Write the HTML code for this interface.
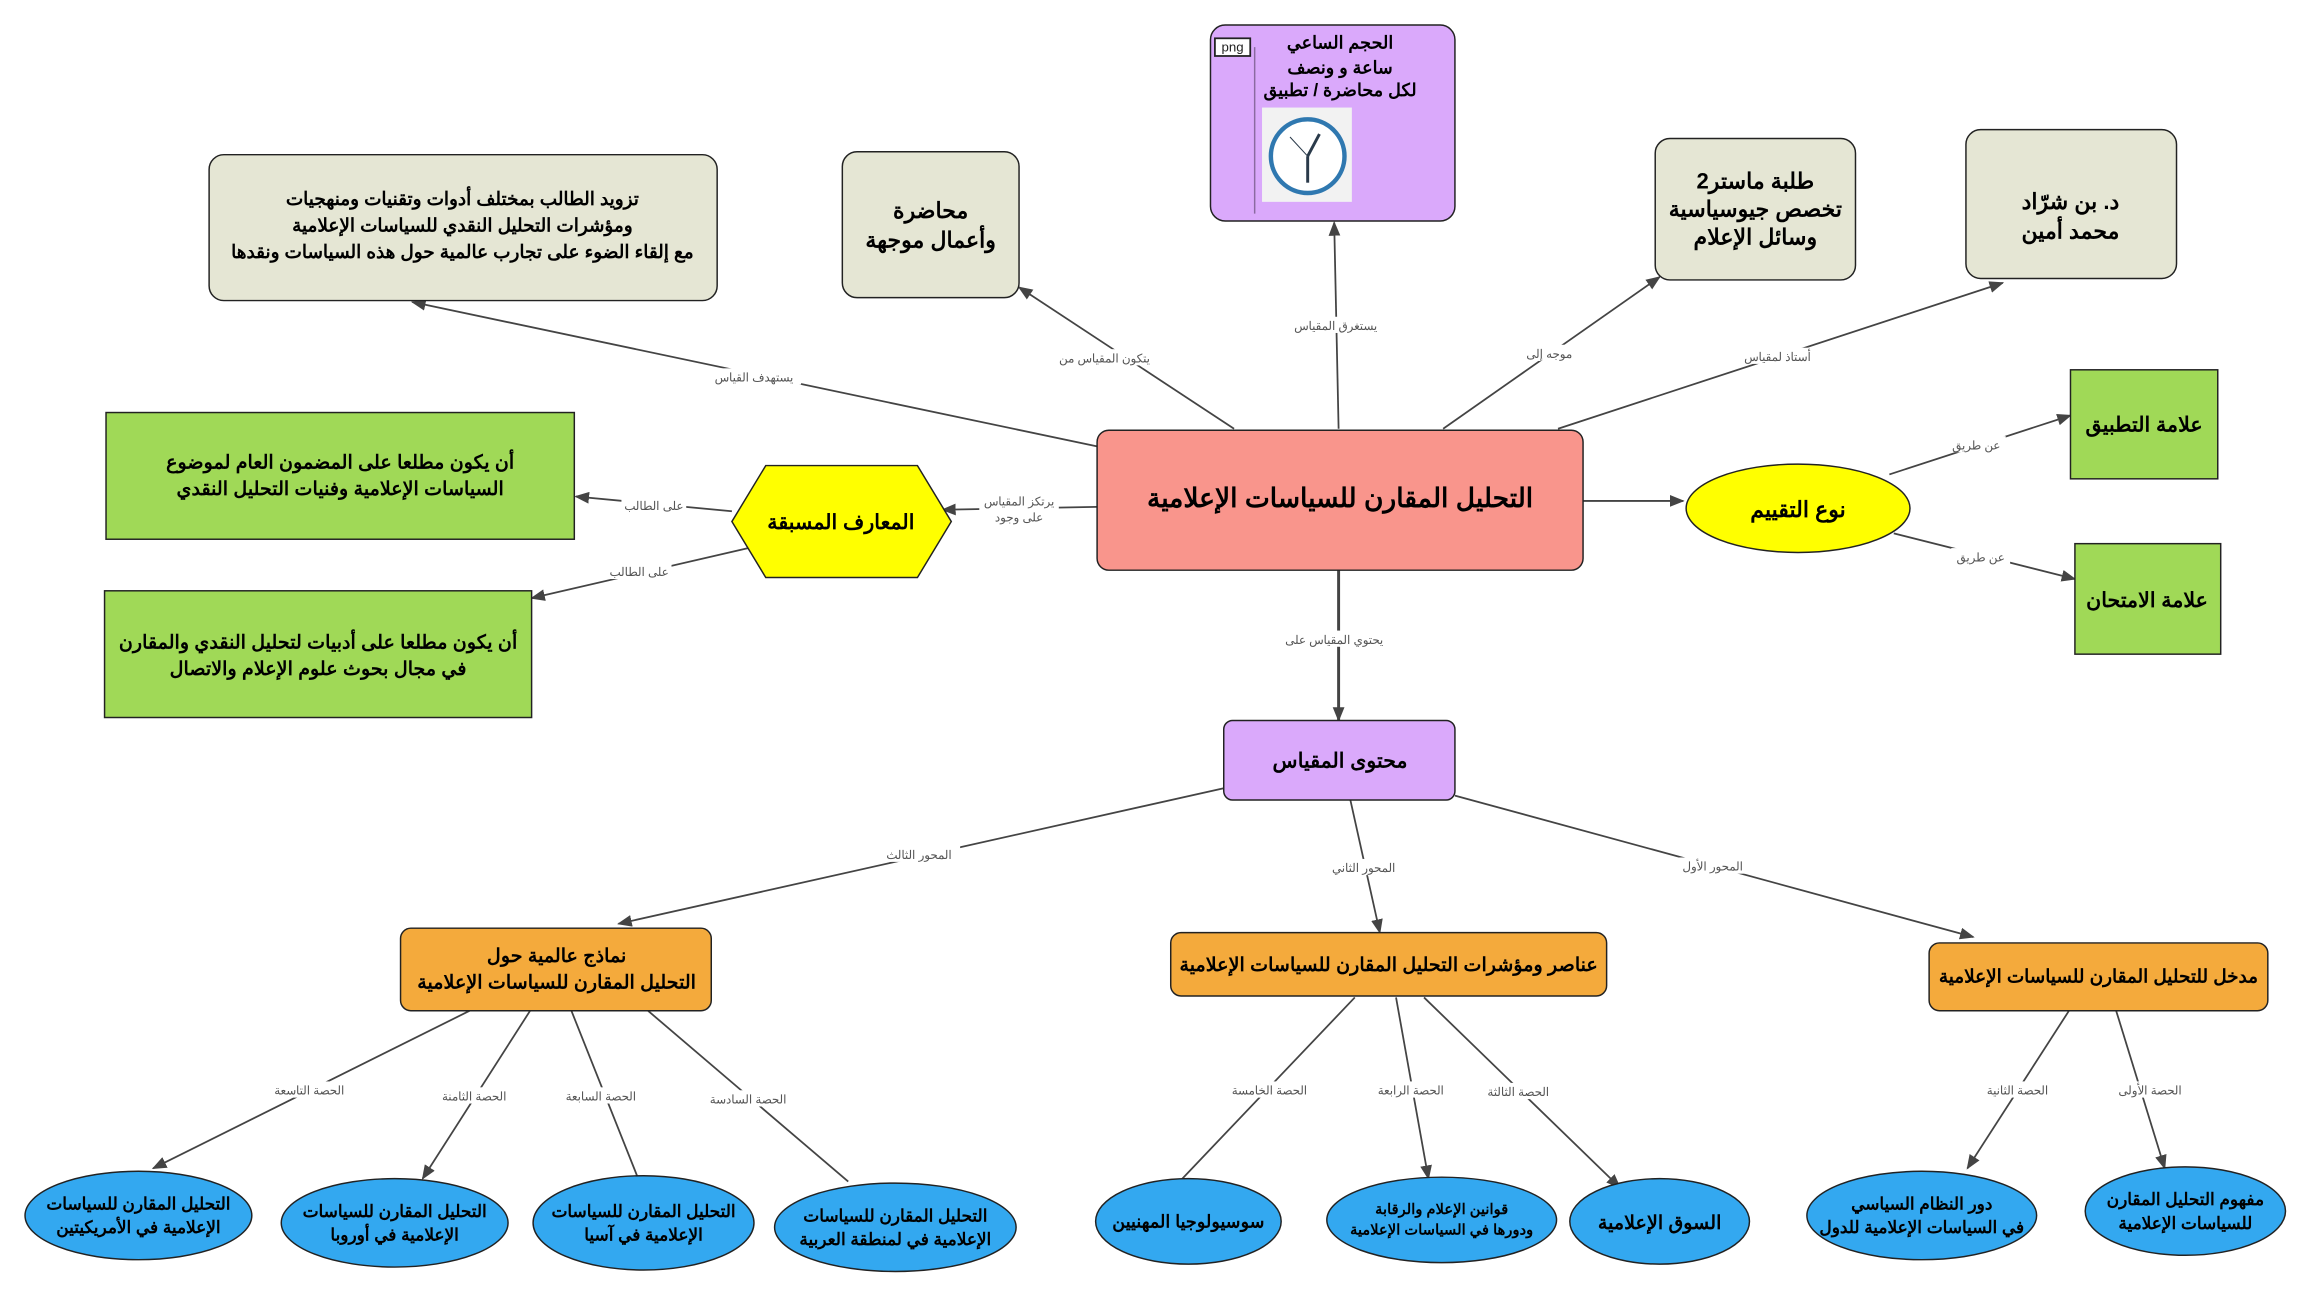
<!DOCTYPE html>
<html><head><meta charset="utf-8"><style>
html,body{margin:0;padding:0;background:#fff;}
svg{display:block;}
text{font-family:"Liberation Sans","Noto Sans CJK SC",sans-serif;text-anchor:middle;}
.b{font-weight:bold;fill:#000;}
.l{font-size:8px;fill:#555;}
.e{stroke:#444;stroke-width:1.2;fill:none;}
</style></head><body>
<svg width="2312" height="1298" viewBox="0 0 1570 881" preserveAspectRatio="none" xmlns="http://www.w3.org/2000/svg">
<defs><marker id="a" markerWidth="10" markerHeight="8" refX="9" refY="4" orient="auto" markerUnits="userSpaceOnUse"><path d="M0,0 L10,4 L0,8 Z" fill="#444"/></marker></defs>

<g class="e">
<line x1="745" y1="303" x2="280" y2="205" marker-end="url(#a)"/>
<line x1="838" y1="291" x2="692" y2="195" marker-end="url(#a)"/>
<line x1="909" y1="291" x2="906" y2="151" marker-end="url(#a)"/>
<line x1="980" y1="291" x2="1127" y2="188" marker-end="url(#a)"/>
<line x1="1058" y1="291" x2="1360" y2="192" marker-end="url(#a)"/>
<line x1="745" y1="344" x2="640" y2="346" marker-end="url(#a)"/>
<line x1="497" y1="347" x2="391" y2="337" marker-end="url(#a)"/>
<line x1="508" y1="372" x2="361" y2="406" marker-end="url(#a)"/>
<line x1="1075" y1="340" x2="1143" y2="340" marker-end="url(#a)"/>
<line x1="1283" y1="322" x2="1406" y2="282" marker-end="url(#a)"/>
<line x1="1286" y1="362" x2="1409" y2="393" marker-end="url(#a)"/>
<line x1="909" y1="387" x2="909" y2="489" marker-end="url(#a)" stroke-width="2"/>
<line x1="831" y1="535" x2="420" y2="627" marker-end="url(#a)"/>
<line x1="917" y1="543" x2="937" y2="633" marker-end="url(#a)"/>
<line x1="988" y1="540" x2="1340" y2="636" marker-end="url(#a)"/>
<line x1="1405" y1="686" x2="1336" y2="793" marker-end="url(#a)"/>
<line x1="1437" y1="686" x2="1470" y2="793" marker-end="url(#a)"/>
<line x1="920" y1="677" x2="800" y2="803"/>
<line x1="948" y1="677" x2="970" y2="800" marker-end="url(#a)"/>
<line x1="967" y1="677" x2="1100" y2="806" marker-end="url(#a)"/>
<line x1="319" y1="686" x2="104" y2="793" marker-end="url(#a)"/>
<line x1="360" y1="686" x2="287" y2="800" marker-end="url(#a)"/>
<line x1="388" y1="686" x2="433" y2="799"/>
<line x1="440" y1="686" x2="576" y2="802"/>
</g>

<g>
<rect x="480" y="250" width="64" height="11" fill="#fff"/><text class="l" x="512" y="259">يستهدف القياس</text>
<rect x="725" y="237" width="50" height="11" fill="#fff"/><text class="l" x="750" y="246">يتكون المقياس من</text>
<rect x="877" y="215" width="60" height="11" fill="#fff"/><text class="l" x="907" y="224">يستغرق المقياس</text>
<rect x="1034" y="234" width="36" height="11" fill="#fff"/><text class="l" x="1052" y="243">موجه إلى</text>
<rect x="1182" y="236" width="50" height="11" fill="#fff"/><text class="l" x="1207" y="245">أستاذ لمقياس</text>
<rect x="665" y="333" width="54" height="24" fill="#fff"/><text class="l" x="692" y="343">يرتكز المقياس</text><text class="l" x="692" y="354">على وجود</text>
<rect x="422" y="337" width="44" height="11" fill="#fff"/><text class="l" x="444" y="346">على الطالب</text>
<rect x="412" y="382" width="44" height="11" fill="#fff"/><text class="l" x="434" y="391">على الطالب</text>
<rect x="1322" y="296" width="40" height="11" fill="#fff"/><text class="l" x="1342" y="305">عن طريق</text>
<rect x="1325" y="372" width="40" height="11" fill="#fff"/><text class="l" x="1345" y="381">عن طريق</text>
<rect x="868" y="428" width="76" height="11" fill="#fff"/><text class="l" x="906" y="437">يحتوي المقياس على</text>
<rect x="596" y="574" width="56" height="11" fill="#fff"/><text class="l" x="624" y="583">المحور الثالث</text>
<rect x="898" y="583" width="56" height="11" fill="#fff"/><text class="l" x="926" y="592">المحور الثاني</text>
<rect x="1135" y="582" width="56" height="11" fill="#fff"/><text class="l" x="1163" y="591">المحور الأول</text>
<rect x="1345" y="734" width="50" height="11" fill="#fff"/><text class="l" x="1370" y="743">الحصة الثانية</text>
<rect x="1435" y="734" width="50" height="11" fill="#fff"/><text class="l" x="1460" y="743">الحصة الأولى</text>
<rect x="835" y="734" width="54" height="11" fill="#fff"/><text class="l" x="862" y="743">الحصة الخامسة</text>
<rect x="933" y="734" width="50" height="11" fill="#fff"/><text class="l" x="958" y="743">الحصة الرابعة</text>
<rect x="1006" y="735" width="50" height="11" fill="#fff"/><text class="l" x="1031" y="744">الحصة الثالثة</text>
<rect x="184" y="734" width="52" height="11" fill="#fff"/><text class="l" x="210" y="743">الحصة التاسعة</text>
<rect x="297" y="738" width="50" height="11" fill="#fff"/><text class="l" x="322" y="747">الحصة الثامنة</text>
<rect x="383" y="738" width="50" height="11" fill="#fff"/><text class="l" x="408" y="747">الحصة السابعة</text>
<rect x="480" y="740" width="56" height="11" fill="#fff"/><text class="l" x="508" y="749">الحصة السادسة</text>
</g>

<rect x="745" y="292" width="330" height="95" rx="8" fill="#f9958c" stroke="#222" stroke-width="1"/>
<text class="b" x="910" y="344" font-size="18">التحليل المقارن للسياسات الإعلامية</text>

<rect x="822" y="17" width="166" height="133" rx="10" fill="#daa9fb" stroke="#222" stroke-width="1"/>
<line x1="852" y1="32" x2="852" y2="145" stroke="#8a6aa0" stroke-width="1"/>
<rect x="825" y="26" width="24" height="12" fill="#fff" stroke="#222" stroke-width="1.2"/>
<text x="837" y="35" font-size="9" fill="#222">png</text>
<text class="b" x="910" y="33" font-size="12">الحجم الساعي</text>
<text class="b" x="910" y="50" font-size="12">ساعة و ونصف</text>
<text class="b" x="910" y="65" font-size="12">لكل محاضرة / تطبيق</text>
<rect x="857" y="73" width="61" height="64" fill="#f2f2f2"/>
<circle cx="888" cy="106" r="25" fill="#fff" stroke="#2f78b0" stroke-width="3"/>
<line x1="888" y1="106" x2="896" y2="91" stroke="#2a3a4a" stroke-width="2"/>
<line x1="888" y1="106" x2="888" y2="124" stroke="#2a3a4a" stroke-width="2"/>
<line x1="888" y1="106" x2="876" y2="93" stroke="#2a3a4a" stroke-width="0.7"/>

<rect x="142" y="105" width="345" height="99" rx="10" fill="#e5e6d4" stroke="#222"/>
<text class="b" x="314" y="139" font-size="12.5">تزويد الطالب بمختلف أدوات وتقنيات ومنهجيات</text>
<text class="b" x="314" y="157" font-size="12.5">ومؤشرات التحليل النقدي للسياسات الإعلامية</text>
<text class="b" x="314" y="175" font-size="12.5">مع إلقاء الضوء على تجارب عالمية حول هذه السياسات ونقدها</text>
<rect x="572" y="103" width="120" height="99" rx="10" fill="#e5e6d4" stroke="#222"/>
<text class="b" x="632" y="148" font-size="15">محاضرة</text>
<text class="b" x="632" y="168" font-size="15">وأعمال موجهة</text>
<rect x="1124" y="94" width="136" height="96" rx="10" fill="#e5e6d4" stroke="#222"/>
<text class="b" x="1192" y="128" font-size="15">طلبة ماستر2</text>
<text class="b" x="1192" y="147" font-size="15">تخصص جيوسياسية</text>
<text class="b" x="1192" y="166" font-size="15">وسائل الإعلام</text>
<rect x="1335" y="88" width="143" height="101" rx="10" fill="#e5e6d4" stroke="#222"/>
<text class="b" x="1406" y="142" font-size="15">د. بن شرّاد</text>
<text class="b" x="1406" y="162" font-size="15">محمد أمين</text>

<rect x="72" y="280" width="318" height="86" fill="#a0d957" stroke="#222"/>
<text class="b" x="231" y="318" font-size="13">أن يكون مطلعا على المضمون العام لموضوع</text>
<text class="b" x="231" y="336" font-size="13">السياسات الإعلامية وفنيات التحليل النقدي</text>
<rect x="71" y="401" width="290" height="86" fill="#a0d957" stroke="#222"/>
<text class="b" x="216" y="440" font-size="13">أن يكون مطلعا على أدبيات لتحليل النقدي والمقارن</text>
<text class="b" x="216" y="458" font-size="13">في مجال بحوث علوم الإعلام والاتصال</text>
<rect x="1406" y="251" width="100" height="74" fill="#a0d957" stroke="#222"/>
<text class="b" x="1456" y="293" font-size="14">علامة التطبيق</text>
<rect x="1409" y="369" width="99" height="75" fill="#a0d957" stroke="#222"/>
<text class="b" x="1458" y="412" font-size="14">علامة الامتحان</text>

<polygon points="497,354 520,316 623,316 646,354 623,392 520,392" fill="#ffff00" stroke="#222"/>
<text class="b" x="571" y="359" font-size="14">المعارف المسبقة</text>
<ellipse cx="1221" cy="345" rx="76" ry="30" fill="#ffff00" stroke="#222"/>
<text class="b" x="1221" y="351" font-size="15">نوع التقييم</text>

<rect x="831" y="489" width="157" height="54" rx="6" fill="#daa9fb" stroke="#222"/>
<text class="b" x="910" y="521" font-size="14">محتوى المقياس</text>

<rect x="272" y="630" width="211" height="56" rx="7" fill="#f4aa3c" stroke="#222"/>
<text class="b" x="378" y="653" font-size="13">نماذج عالمية حول</text>
<text class="b" x="378" y="671" font-size="13">التحليل المقارن للسياسات الإعلامية</text>
<rect x="795" y="633" width="296" height="43" rx="7" fill="#f4aa3c" stroke="#222"/>
<text class="b" x="943" y="659" font-size="13">عناصر ومؤشرات التحليل المقارن للسياسات الإعلامية</text>
<rect x="1310" y="640" width="230" height="46" rx="7" fill="#f4aa3c" stroke="#222"/>
<text class="b" x="1425" y="667" font-size="12.5">مدخل للتحليل المقارن للسياسات الإعلامية</text>

<g fill="#33a8f0" stroke="#222">
<ellipse cx="94" cy="825" rx="77" ry="30"/>
<ellipse cx="268" cy="830" rx="77" ry="30"/>
<ellipse cx="437" cy="830" rx="75" ry="32"/>
<ellipse cx="608" cy="833" rx="82" ry="30"/>
<ellipse cx="807" cy="829" rx="63" ry="29"/>
<ellipse cx="979" cy="828" rx="78" ry="29"/>
<ellipse cx="1127" cy="829" rx="61" ry="29"/>
<ellipse cx="1305" cy="825" rx="78" ry="30"/>
<ellipse cx="1484" cy="822" rx="68" ry="30"/>
</g>
<g class="b" font-size="11.5">
<text x="94" y="821">التحليل المقارن للسياسات</text><text x="94" y="837">الإعلامية في الأمريكيتين</text>
<text x="268" y="826">التحليل المقارن للسياسات</text><text x="268" y="842">الإعلامية في أوروبا</text>
<text x="437" y="826">التحليل المقارن للسياسات</text><text x="437" y="842">الإعلامية في آسيا</text>
<text x="608" y="829">التحليل المقارن للسياسات</text><text x="608" y="845">الإعلامية في لمنطقة العربية</text>
<text x="807" y="833" font-size="12">سوسيولوجيا المهنيين</text>
<text x="979" y="824" font-size="10">قوانين الإعلام والرقابة</text><text x="979" y="838" font-size="10">ودورها في السياسات الإعلامية</text>
<text x="1127" y="834" font-size="13">السوق الإعلامية</text>
<text x="1305" y="821">دور النظام السياسي</text><text x="1305" y="837">في السياسات الإعلامية للدول</text>
<text x="1484" y="818">مفهوم التحليل المقارن</text><text x="1484" y="834">للسياسات الإعلامية</text>
</g>
</svg>
</body></html>
